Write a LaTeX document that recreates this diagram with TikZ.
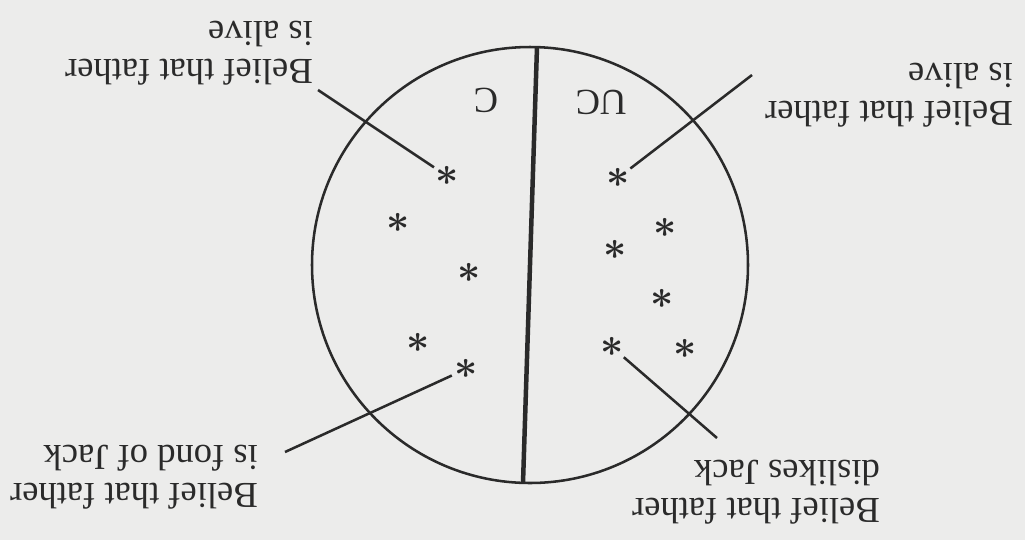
\documentclass[tikz,border=0pt]{standalone}
\usepackage{amsmath}
\usepackage{fontspec}
\setmainfont{Liberation Serif}
\definecolor{paper}{HTML}{ECECEB}
\definecolor{ink}{HTML}{2A2A2A}

\begin{document}
\begin{tikzpicture}[x=0.0125cm,y=0.0125cm,
    every node/.style={text=ink},
    ast/.style={circle,inner sep=0pt,minimum size=0.3cm,font=\fontsize{14}{14}\selectfont},
    belief/.style={rotate=180,align=left,inner sep=0pt,font=\fontsize{13}{13.5}\selectfont},
    half/.style={rotate=180,inner sep=0pt,font=\fontsize{13}{13}\selectfont},
    leader/.style={draw=ink,line width=0.9pt}]
    \fill[paper] (0,0) rectangle (1025,540);
    \useasboundingbox (0,0) rectangle (1025,540);
    % mind and its two halves
    \draw[ink,line width=0.9pt] (530,275) circle (218);
    \coordinate (top) at (537,493);
    \coordinate (bot) at (523,57);
    \draw[ink,line width=1.6pt] (top) -- (bot);
    \node[half] (c) at (486,440) {C};
    \node[half] (uc) at (601,438) {UC};
    % conscious beliefs
    \node[ast] (c1) at (447,364) {$\boldsymbol{\ast}$};
    \node[ast] (c2) at (398,317) {$\boldsymbol{\ast}$};
    \node[ast] (c3) at (469,267) {$\boldsymbol{\ast}$};
    \node[ast] (c4) at (418,197) {$\boldsymbol{\ast}$};
    \node[ast] (c5) at (466,171) {$\boldsymbol{\ast}$};
    % unconscious beliefs
    \node[ast] (u1) at (618,362) {$\boldsymbol{\ast}$};
    \node[ast] (u2) at (665,312) {$\boldsymbol{\ast}$};
    \node[ast] (u3) at (615,290) {$\boldsymbol{\ast}$};
    \node[ast] (u4) at (662,241) {$\boldsymbol{\ast}$};
    \node[ast] (u5) at (612,193) {$\boldsymbol{\ast}$};
    \node[ast] (u6) at (685,191) {$\boldsymbol{\ast}$};
    % labels
    \node[belief] (alivec) at (189,487) {Belief that father\\is alive};
    \node[belief] (fond) at (134,63) {Belief that father\\is fond of Jack};
    \node[belief] (aliveuc) at (889,445) {Belief that father\\is alive};
    \node[belief] (dislikes) at (756,48) {Belief that father\\dislikes Jack};
    \coordinate (alivecend) at (318,450);
    \coordinate (fondend) at (285,88);
    \coordinate (aliveucend) at (752,465);
    \coordinate (dislikesend) at (717,102);
    \draw[leader] (c1) -- (alivecend);
    \draw[leader] (c5) -- (fondend);
    \draw[leader] (u1) -- (aliveucend);
    \draw[leader] (u5) -- (dislikesend);
\end{tikzpicture}
\end{document}
